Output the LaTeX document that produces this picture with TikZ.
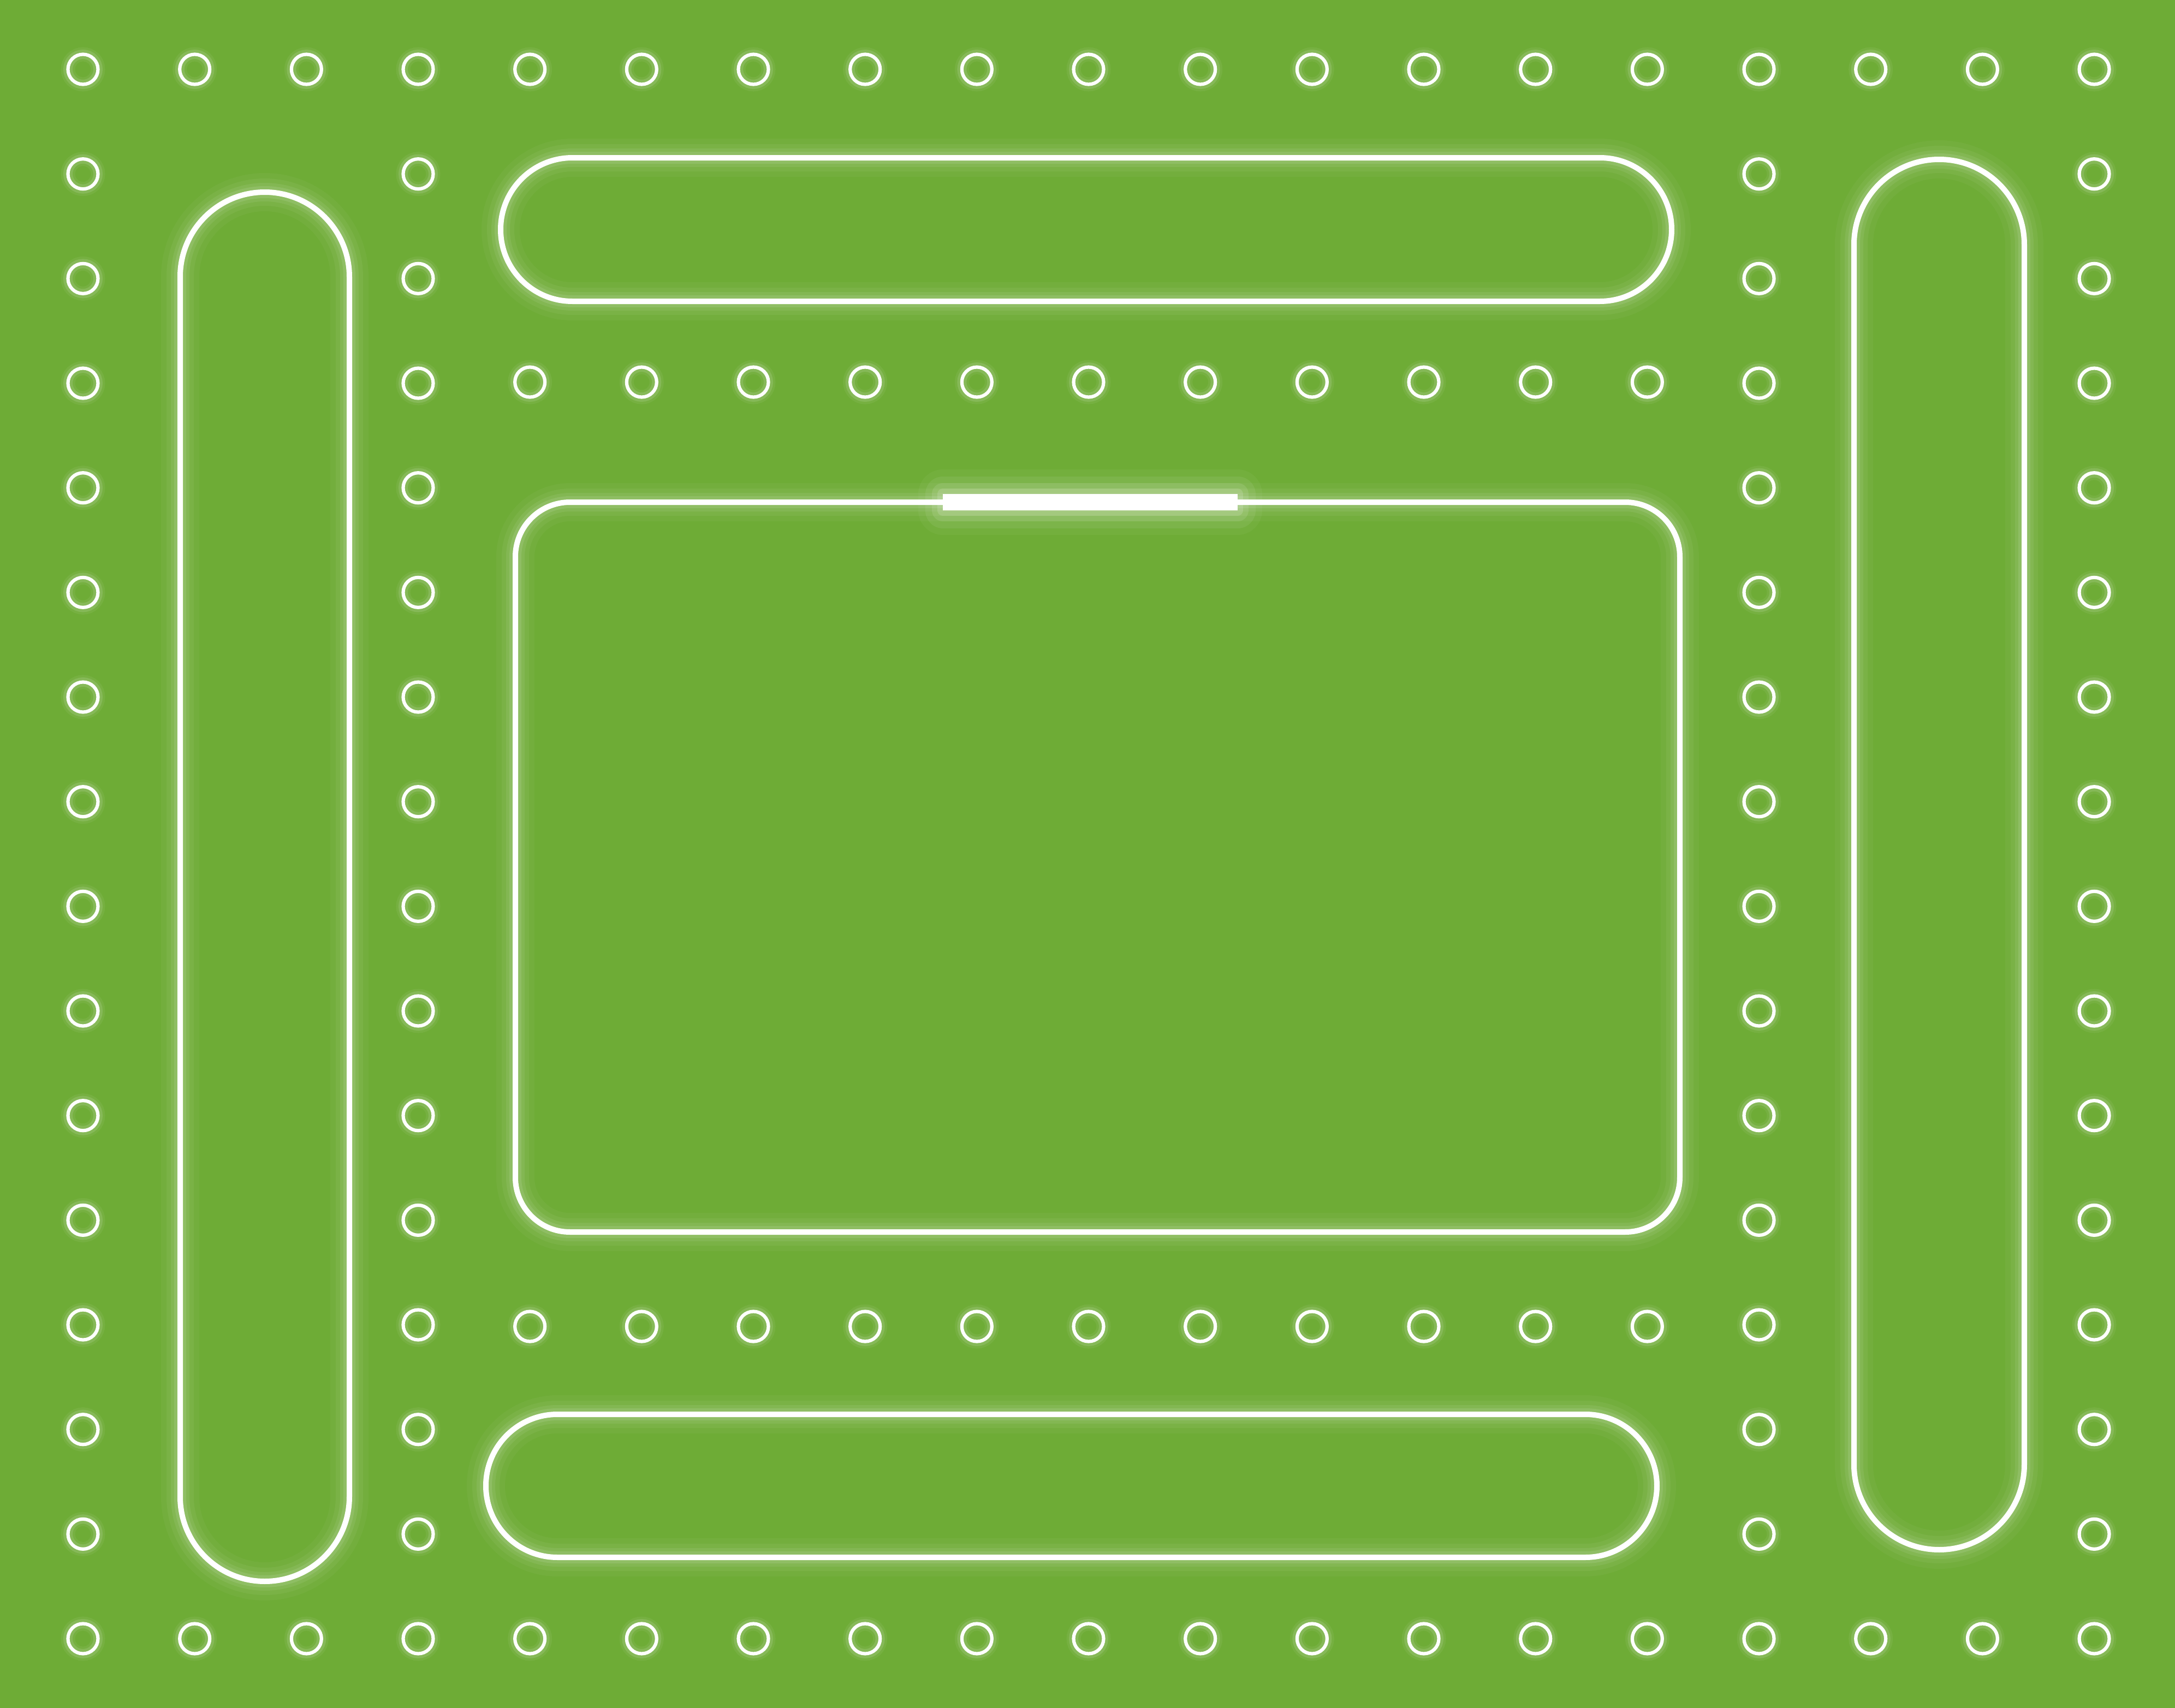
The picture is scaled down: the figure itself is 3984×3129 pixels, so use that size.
\documentclass[tikz,border=0pt]{standalone}
\definecolor{bg}{RGB}{110,172,54}
\tikzset{
  glowline/.style={draw=white, line width=1pt,
    preaction={draw=white, line width=7pt, opacity=0.035},
    preaction={draw=white, line width=5pt, opacity=0.05},
    preaction={draw=white, line width=3.4pt, opacity=0.07},
    preaction={draw=white, line width=2.2pt, opacity=0.10}},
  hole/.style={circle, draw=white, line width=0.62pt, minimum size=5.5pt, inner sep=0pt,
    preaction={draw=white, line width=2.6pt, opacity=0.06},
    preaction={draw=white, line width=1.7pt, opacity=0.12}},
  slotbar/.style={fill=white, draw=none,
    preaction={draw=white, line join=round, line width=9pt, opacity=0.04},
    preaction={draw=white, line join=round, line width=6.5pt, opacity=0.07},
    preaction={draw=white, line join=round, line width=4pt, opacity=0.10},
    preaction={draw=white, line join=round, line width=2pt, opacity=0.14}}
}
\begin{document}
\begin{tikzpicture}[x=0.1pt,y=-0.1pt]
\useasboundingbox (0,0) rectangle (3984,3129);
\fill[bg] (0,0) rectangle (3984,3129);
% outer row of holes, top and bottom
\foreach \c in {0,...,18} {
  \node[hole] (t-\c) at ({152+204.67*\c},127) {};
  \node[hole] (b-\c) at ({152+204.67*\c},3002) {};
}
% vertical columns of holes
\foreach \r in {1,...,14} {
  \node[hole] (l-\r) at (152,{127+191.67*\r}) {};
  \node[hole] (il-\r) at ({152+204.67*3},{127+191.67*\r}) {};
  \node[hole] (ir-\r) at ({152+204.67*15},{127+191.67*\r}) {};
  \node[hole] (r-\r) at ({152+204.67*18},{127+191.67*\r}) {};
}
% inner horizontal rows
\foreach \c in {4,...,14} {
  \node[hole] (it-\c) at ({152+204.67*\c},{127+191.67*3-2}) {};
  \node[hole] (ib-\c) at ({152+204.67*\c},{127+191.67*12+3}) {};
}
% pills
\draw[glowline, rounded corners=15.5pt] (330,352) rectangle (640,2897);
\draw[glowline, rounded corners=15.6pt] (3396,292) rectangle (3708,2839);
\draw[glowline, rounded corners=13.15pt] (917,289) rectangle (3062,552);
\draw[glowline, rounded corners=13.1pt] (890,2591) rectangle (3035,2853);
% central rounded rectangle
\draw[glowline, rounded corners=10pt] (944,920) rectangle (3077,2257);
% slot bar
\fill[slotbar] (1727,905) rectangle (2267,935);
\end{tikzpicture}
\end{document}
